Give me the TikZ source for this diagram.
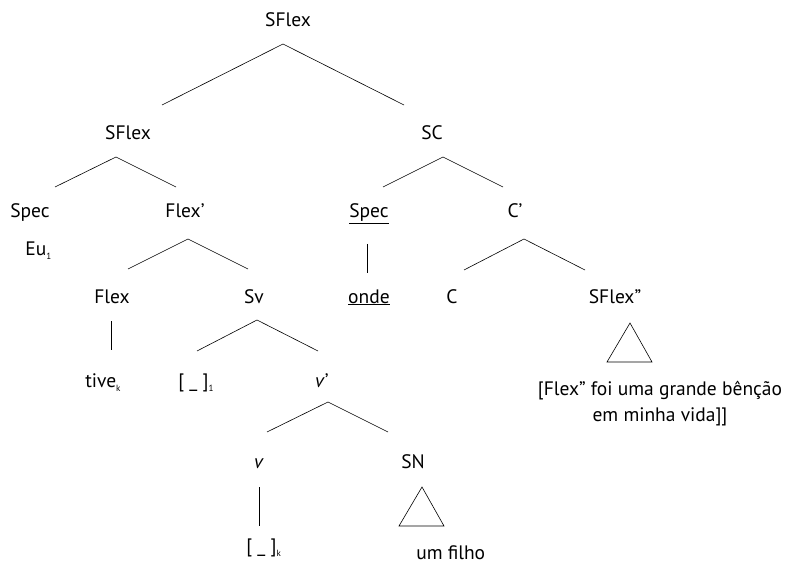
\documentclass[tikz,border=0pt]{standalone}
\usepackage{fontspec}
\setmainfont{PT Sans}
\newcommand{\idx}[1]{\raisebox{-4pt}{\fontsize{9}{9}\selectfont #1}}
\tikzset{
  lab/.style={font=\fontsize{19.5}{26}\selectfont, inner sep=0pt, anchor=base},
}
\begin{document}
\begin{tikzpicture}[x=1pt,y=-1pt,line width=0.6pt]
        \useasboundingbox (0,0) rectangle (790,564);
        \node[lab] (sflexTop) at (288,27) {SFlex};
        \node[lab] (sflexL) at (128,140) {SFlex};
        \node[lab] (sc) at (432,140) {SC};
        \node[lab] (specL) at (30,218) {Spec};
        \node[lab,anchor=base west] (eu) at (25,256) {Eu\idx{1}};
        \node[lab] (flexBar) at (185,218) {Flex’};
        \node[lab] (specC) at (369,218) {\underline{Spec}};
        \node[lab] (cBar) at (515,218) {C’};
        \node[lab] (flex) at (112,303) {Flex};
        \node[lab] (sv) at (254,303) {Sv};
        \node[lab] (onde) at (369,303) {\underline{onde}};
        \node[lab] (c) at (452,303) {C};
        \node[lab] (sflexDd) at (615,303) {SFlex”};
        \node[lab,anchor=base west] (tive) at (85,387) {tive\idx{k}};
        \node[lab,anchor=base west] (gapA) at (178,387) {[ \_ ]\idx{1}};
        \node[lab] (vBar) at (322,387) {\textit{v}’};
        \node[lab,anchor=north,align=center] (flexTxt) at (660,381) {[Flex” foi uma grande bênção\\em minha vida]]};
        \node[lab] (v) at (259,468) {\textit{v}};
        \node[lab] (sn) at (413,468) {SN};
        \node[lab,anchor=base west] (gapK) at (246,552) {[ \_ ]\idx{k}};
        \node[lab,anchor=base west] (filho) at (416,559) {um filho};
        % branch points
        \coordinate (sflexTop-b) at (283,44);
        \coordinate (sflexL-b) at (116,157);
        \coordinate (sc-b) at (443,157);
        \coordinate (flexBar-b) at (188,239);
        \coordinate (cBar-b) at (524,239);
        \coordinate (sv-b) at (257,320);
        \coordinate (vBar-b) at (328,402);
        \draw (sflexTop-b) ++(-121,61) -- (sflexTop-b) -- ++(121,61);
        \draw (sflexL-b) ++(-61,30) -- (sflexL-b) -- ++(60,30);
        \draw (sc-b) ++(-60,30) -- (sc-b) -- ++(60,30);
        \draw (flexBar-b) ++(-60,30) -- (flexBar-b) -- ++(60,30);
        \draw (cBar-b) ++(-60,31) -- (cBar-b) -- ++(61,31);
        \draw (sv-b) ++(-60,31) -- (sv-b) -- ++(61,31);
        \draw (vBar-b) ++(-61,30) -- (vBar-b) -- ++(60,30);
        % unary branches
        \draw (specC.base) ++(-2,26) -- ++(0,29);
        \draw (flex.base) ++(-1,18) -- ++(0,29);
        \draw (v.base) ++(0,19) -- ++(0,39);
        % triangles
        \draw (sflexDd.base) ++(15,20) -- ++(-23,39) -- ++(45,0) -- cycle;
        \draw (sn.base) ++(9,19) -- ++(-23,39) -- ++(45,0) -- cycle;
\end{tikzpicture}
\end{document}
